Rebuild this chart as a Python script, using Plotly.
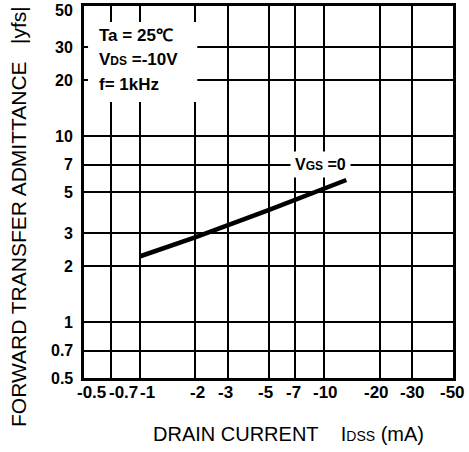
import math
import plotly.graph_objects as go

# ---- data ----
drain_current_mA = [1, 2, 5, 10, 13.2]          # |IDSS| (plotted as magnitude, labelled negative)
yfs_vgs0 = [2.25, 2.85, 4.0, 5.2, 5.8]          # |yfs| (mS)

x_tickvals = [0.5, 0.7, 1, 2, 3, 5, 7, 10, 20, 30, 50]
x_ticktext = ["-0.5", "-0.7", "-1", "-2", "-3", "-5", "-7", "-10", "-20", "-30", "-50"]
y_tickvals = [0.5, 0.7, 1, 2, 3, 5, 7, 10, 20, 30, 50]
y_ticktext = ["0.5", "0.7", "1", "2", "3", "5", "7", "10", "20", "30", "50"]

conditions = ["Ta = 25℃",
              "V<span style='font-size:12px'>DS</span> =-10V",
              "f= 1kHz"]
curve_label = "V<span style='font-size:12px'>GS</span> =0"
curve_label_pos = (9.6, 7)

# ---- styling ----
FONT = "Liberation Sans, Arial, Helvetica, sans-serif"
NB = "\u00a0"
x_label_shift = [7, 13, 8, 2, -2, -3, -2, 1, -3, 0, -1]   # pixel nudges of the crowded labels
y_label_shift = [0, 0, 0, 0, 0, 0, 0, 0, 0, 0, -4]

fig = go.Figure()
fig.add_trace(go.Scatter(
    x=drain_current_mA, y=yfs_vgs0, mode="lines",
    line=dict(color="black", width=4.5), showlegend=False, hoverinfo="skip"))

fig.update_xaxes(
    type="log", range=[math.log10(0.5), math.log10(50)],
    tickvals=x_tickvals, showticklabels=False,
    showgrid=True, gridcolor="black", gridwidth=2,
    showline=True, linecolor="black", linewidth=3, mirror=True,
    ticks="", zeroline=False, automargin=False)
fig.update_yaxes(
    type="log", range=[math.log10(0.5), math.log10(50)],
    tickvals=y_tickvals, showticklabels=False,
    showgrid=True, gridcolor="black", gridwidth=2,
    showline=True, linecolor="black", linewidth=3, mirror=True,
    ticks="", zeroline=False, automargin=False)

# x tick labels (placed through the x axis, nudged like the original print)
for v, t, dx in zip(x_tickvals, x_ticktext, x_label_shift):
    fig.add_annotation(x=math.log10(v), xref="x", yref="paper", y=(378 - 392) / 372,
                       text=t, showarrow=False, xanchor="center", yanchor="middle",
                       xshift=dx,
                       font=dict(family=FONT, size=17, color="black", weight="bold"))

# y tick labels (placed through the y axis)
for v, t, dy in zip(y_tickvals, y_ticktext, y_label_shift):
    fig.add_annotation(y=math.log10(v), yref="y", xref="paper", x=0,
                       text=t, showarrow=False, xanchor="right", yanchor="middle",
                       xshift=-9, yshift=dy,
                       font=dict(family=FONT, size=16, color="black", weight="bold"))

# white area behind the condition text (gridlines interrupted there)
fig.add_shape(type="rect", xref="paper", yref="paper",
              x0=0.011, x1=0.307, y0=0.742, y1=0.957,
              fillcolor="white", line=dict(width=0), layer="above")

for i, t in enumerate(conditions):
    fig.add_annotation(xref="paper", yref="paper", x=0.035, y=[0.922, 0.855, 0.788][i],
                       text=t, showarrow=False, xanchor="left", yanchor="middle",
                       font=dict(family=FONT, size=17, color="black", weight="bold"))

fig.add_annotation(x=math.log10(curve_label_pos[0]), y=math.log10(curve_label_pos[1]),
                   text=curve_label, showarrow=False, xanchor="center", yanchor="middle",
                   bgcolor="white", borderpad=4,
                   font=dict(family=FONT, size=16, color="black", weight="bold"))

# axis titles
fig.add_annotation(xref="paper", yref="paper", x=(288 - 84) / 369, y=(378 - 434) / 372,
                   text="DRAIN CURRENT" + NB * 4 + "I<span style='font-size:14px'>DSS</span> (mA)",
                   showarrow=False, xanchor="center", yanchor="middle",
                   font=dict(family=FONT, size=20, color="black"))
fig.add_annotation(xref="paper", yref="paper", x=(19 - 84) / 369, y=(378 - 217) / 372,
                   text="FORWARD TRANSFER ADMITTANCE" + NB * 3 + "|yfs|",
                   showarrow=False, textangle=-90, xanchor="center", yanchor="middle",
                   font=dict(family=FONT, size=21, color="black"))

fig.update_layout(
    width=469, height=452,
    margin=dict(l=84, r=16, t=6, b=74, autoexpand=False),
    paper_bgcolor="white", plot_bgcolor="white",
    showlegend=False)

fig.write_html("out.html", config={"displayModeBar": False},
               post_script="document.body.style.margin='0';document.body.style.padding='0';")
